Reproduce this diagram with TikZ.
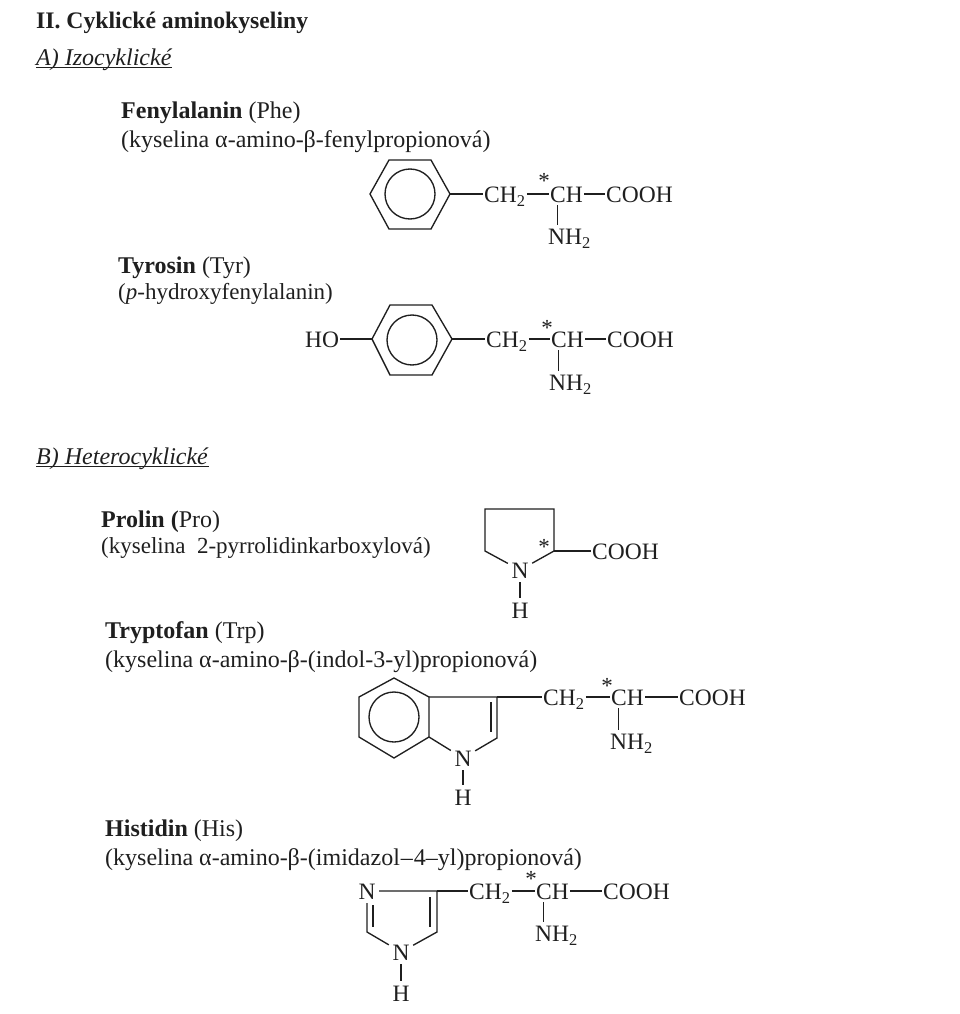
\documentclass[tikz,border=0pt]{standalone}
\usepackage{fontspec}
\setmainfont{Liberation Serif}
\usetikzlibrary{calc}
\definecolor{ink}{gray}{0.12}
\tikzset{
	caption/.style={anchor=base west, inner sep=0pt, yshift=-1.5pt, text=ink, font=\fontsize{24}{28}\selectfont},
	captionsmall/.style={caption, font=\fontsize{23}{27}\selectfont},
	atom/.style={inner xsep=1pt, inner ysep=2.5pt, text height=17pt, text depth=0pt, text=ink, font=\fontsize{23.5}{26}\selectfont},
	ringatom/.style={atom, inner sep=3.5pt},
	mark star/.style={inner sep=0pt, text=ink, font=\fontsize{23}{26}\selectfont},
	bond/.style={draw=ink, line width=1.35pt}
}
\def\stem(#1)(#2){\coordinate (stemtop) at ($(#1.south west)!0.25!(#1.south east)$); \draw[bond] (stemtop) -- (stemtop |- #2.north);}

\begin{document}
\begin{tikzpicture}[x=1pt, y=-1pt]
		%%%%% START %%%%%
		\useasboundingbox (0, 0) rectangle (960, 1014);
		
		% headings
		\node[caption, font=\fontsize{23.7}{28}\selectfont] (title) at (36, 27) {\textbf{II. Cyklické aminokyseliny}};
		\node[caption] (izo) at (36, 64) {\underline{\smash{\textit{A) Izocyklické}}}};
		\node[caption] (hetero) at (36, 463) {\underline{\smash{\textit{B) Heterocyklické}}}};
		
		% phenylalanine
		\node[caption] (phename) at (121, 117) {\textbf{Fenylalanin} (Phe)};
		\node[caption] (phesys) at (121, 146) {(kyselina α-amino-β-fenylpropionová)};
		\coordinate (phea) at (370, 194);
		\coordinate (pheb) at (389, 160);
		\coordinate (phec) at (431, 160);
		\coordinate (phed) at (450, 194);
		\coordinate (phee) at (431, 229);
		\coordinate (phef) at (389, 229);
		\draw[bond] (phea) -- (pheb) -- (phec) -- (phed) -- (phee) -- (phef) -- cycle;
		\draw[bond] (410, 194) circle (25);
		\node[atom, anchor=west] (phech2) at (483, 194) {CH\textsubscript{2}};
		\node[atom, anchor=west] (phech) at (549, 194) {CH};
		\node[atom, anchor=west] (phecooh) at (605, 194) {COOH};
		\node[atom, anchor=west] (phenh) at (547, 236) {NH\textsubscript{2}};
		\node[mark star] (phestar) at (544, 181) {*};
		\draw[bond] (phed) -- (phech2);
		\draw[bond] (phech2) -- (phech);
		\draw[bond] (phech) -- (phecooh);
		\stem(phech)(phenh);
		
		% tyrosine
		\node[caption] (tyrname) at (118, 272) {\textbf{Tyrosin} (Tyr)};
		\node[captionsmall] (tyrsys) at (118, 298) {(\textit{p}-hydroxyfenylalanin)};
		\coordinate (tyra) at (372, 339);
		\coordinate (tyrb) at (390, 305);
		\coordinate (tyrc) at (432, 305);
		\coordinate (tyrd) at (452, 339);
		\coordinate (tyre) at (432, 375);
		\coordinate (tyrf) at (390, 375);
		\draw[bond] (tyra) -- (tyrb) -- (tyrc) -- (tyrd) -- (tyre) -- (tyrf) -- cycle;
		\draw[bond] (412, 340) circle (25);
		\node[atom, anchor=west] (tyrho) at (304, 339) {HO};
		\node[atom, anchor=west] (tyrch2) at (485, 339) {CH\textsubscript{2}};
		\node[atom, anchor=west] (tyrch) at (550, 339) {CH};
		\node[atom, anchor=west] (tyrcooh) at (606, 339) {COOH};
		\node[atom, anchor=west] (tyrnh) at (548, 382) {NH\textsubscript{2}};
		\node[mark star] (tyrstar) at (547, 328) {*};
		\draw[bond] (tyrho) -- (tyra);
		\draw[bond] (tyrd) -- (tyrch2);
		\draw[bond] (tyrch2) -- (tyrch);
		\draw[bond] (tyrch) -- (tyrcooh);
		\stem(tyrch)(tyrnh);
		
		% proline
		\node[caption] (proname) at (101, 526) {\textbf{Prolin (}Pro)};
		\node[captionsmall] (prosys) at (101, 552) {(kyselina\ \ 2-pyrrolidinkarboxylová)};
		\coordinate (proa) at (485, 509);
		\coordinate (prob) at (554, 509);
		\coordinate (proc) at (554, 551);
		\coordinate (prod) at (485, 551);
		\node[ringatom] (pron) at (520, 570) {N};
		\node[ringatom] (proh) at (520, 610) {H};
		\node[atom, anchor=west] (procooh) at (591, 551) {COOH};
		\node[mark star] (prostar) at (544, 547) {*};
		\draw[bond] (pron) -- (prod) -- (proa) -- (prob) -- (proc) -- (pron);
		\draw[bond] (proc) -- (procooh);
		\draw[bond] (pron) -- (proh);
		
		% tryptophan
		\node[caption] (trpname) at (105, 637) {\textbf{Tryptofan} (Trp)};
		\node[caption] (trpsys) at (105, 666) {(kyselina α-amino-β-(indol-3-yl)propionová)};
		\coordinate (trpa) at (394, 678);
		\coordinate (trpb) at (429, 697);
		\coordinate (trpc) at (429, 737);
		\coordinate (trpd) at (394, 758);
		\coordinate (trpe) at (359, 737);
		\coordinate (trpf) at (359, 697);
		\coordinate (trpg) at (497, 697);
		\coordinate (trph) at (497, 738);
		\coordinate (trpi) at (491, 702);
		\coordinate (trpj) at (491, 732);
		\draw[bond] (trpa) -- (trpb) -- (trpc) -- (trpd) -- (trpe) -- (trpf) -- cycle;
		\draw[bond] (394, 717) circle (25);
		\node[ringatom] (trpn) at (463, 758) {N};
		\node[ringatom] (trph2) at (463, 797) {H};
		\node[atom, anchor=west] (trpch2) at (542, 697) {CH\textsubscript{2}};
		\node[atom, anchor=west] (trpch) at (610, 697) {CH};
		\node[atom, anchor=west] (trpcooh) at (678, 697) {COOH};
		\node[atom, anchor=west] (trpnh) at (609, 741) {NH\textsubscript{2}};
		\node[mark star] (trpstar) at (607, 686) {*};
		\draw[bond] (trpb) -- (trpg) -- (trph) -- (trpn) -- (trpc);
		\draw[bond] (trpi) -- (trpj);
		\draw[bond] (trpn) -- (trph2);
		\draw[bond] (trpg) -- (trpch2);
		\draw[bond] (trpch2) -- (trpch);
		\draw[bond] (trpch) -- (trpcooh);
		\stem(trpch)(trpnh);
		
		% histidine
		\node[caption] (hisname) at (105, 835) {\textbf{Histidin} (His)};
		\node[caption] (hissys) at (105, 864) {(kyselina α-amino-β-(imidazol{\kern1pt}–{\kern1pt}4–yl)propionová)};
		\coordinate (hisa) at (437, 891);
		\coordinate (hisb) at (437, 932);
		\coordinate (hisc) at (367, 932);
		\coordinate (hisd) at (430, 897);
		\coordinate (hise) at (430, 927);
		\coordinate (hisf) at (373, 905);
		\coordinate (hisg) at (373, 927);
		\node[ringatom] (hisn) at (367, 891) {N};
		\node[ringatom] (hisnh) at (401, 952) {N};
		\node[ringatom] (hish) at (401, 993) {H};
		\node[atom, anchor=west] (hisch2) at (468, 891) {CH\textsubscript{2}};
		\node[atom, anchor=west] (hisch) at (535, 891) {CH};
		\node[atom, anchor=west] (hiscooh) at (602, 891) {COOH};
		\node[atom, anchor=west] (hisnh2) at (534, 933) {NH\textsubscript{2}};
		\node[mark star] (hisstar) at (531, 879) {*};
		\draw[bond] (hisn) -- (hisa) -- (hisb) -- (hisnh) -- (hisc) -- (hisn);
		\draw[bond] (hisd) -- (hise);
		\draw[bond] (hisf) -- (hisg);
		\draw[bond] (hisnh) -- (hish);
		\draw[bond] (hisa) -- (hisch2);
		\draw[bond] (hisch2) -- (hisch);
		\draw[bond] (hisch) -- (hiscooh);
		\stem(hisch)(hisnh2);
		%%%%% END %%%%%
	\end{tikzpicture}
\end{document}
